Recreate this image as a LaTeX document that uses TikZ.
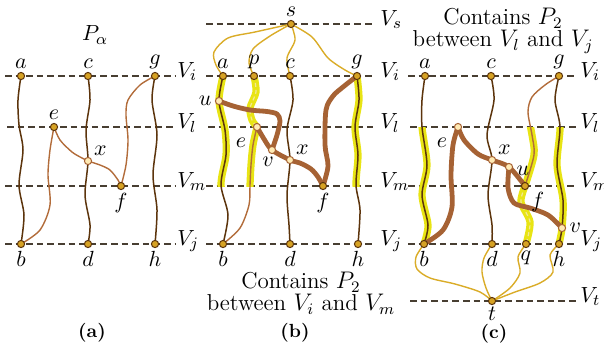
\documentclass[tikz,border=0pt,11pt]{standalone}
\usepackage{amsmath,amssymb}
\usepackage{tikz}
\usepackage{xcolor}
\usetikzlibrary{backgrounds}
\definecolor{dkbrown}{RGB}{92,52,12}
\definecolor{ltbrown}{RGB}{178,108,58}
\definecolor{thbrown}{RGB}{166,98,52}
\definecolor{glowy}{RGB}{232,228,20}
\definecolor{paley}{RGB}{242,232,150}
\definecolor{gold}{RGB}{218,172,40}
\definecolor{nodegold}{RGB}{214,162,36}
\definecolor{nodepale}{RGB}{255,234,180}
\definecolor{guidec}{RGB}{72,62,50}

\begin{document}
\begin{tikzpicture}[x=0.5pt,y=-0.5pt,
  vtx/.style={circle,draw=dkbrown,fill=nodegold,line width=0.5pt,inner sep=0pt,minimum size=3.6pt},
  pvtx/.style={vtx,draw=thbrown,fill=nodepale},
  every label/.style={inner sep=1pt},
  label distance=0.5pt,
  guide/.style={draw=guidec,line width=0.6pt,dash pattern=on 3.3pt off 2pt},
  vlab/.style={anchor=base west,inner sep=0pt},
  wire/.style={draw=dkbrown,line width=0.75pt},
  lwire/.style={draw=ltbrown,line width=0.7pt},
  twire/.style={draw=thbrown,line width=2.4pt,line cap=round,line join=round},
  glow/.style={draw=glowy,line width=3.6pt},
  ghost/.style={draw=paley,line width=0.6pt,dash pattern=on 2pt off 1.5pt},
  sedge/.style={draw=gold,line width=0.7pt},
  capt/.style={anchor=north,align=center,inner sep=0pt,font=\fontsize{11.5}{10.8}\selectfont},
  subcap/.style={font=\fontsize{9.5}{11}\selectfont\bfseries,inner sep=1pt}]
\useasboundingbox (0,0) rectangle (604,344);

\node (Palpha) at (95,35) {$P_\alpha$};
\node[vtx,label=above:$a$] (a1) at (21,76) {};
\node[vtx,label=above:$c$] (c1) at (88,76) {};
\node[vtx,label=above:$g$] (g1) at (155,76) {};
\node[vtx,label=above:$e$] (e1) at (54,127) {};
\node[pvtx,label=above right:$x$] (x1) at (88,161) {};
\node[vtx,label=below:$f$] (f1) at (121,186) {};
\node[vtx,label=below:$b$] (b1) at (21,244) {};
\node[vtx,label=below:$d$] (d1) at (88,244) {};
\node[vtx,label=below:$h$] (h1) at (155,244) {};
\node[vlab] (Vi1) at (177,77.5) {$V_i$};
\node[vlab] (Vl1) at (177,128.5) {$V_l$};
\node[vlab] (Vm1) at (177,187.5) {$V_m$};
\node[vlab] (Vj1) at (177,245.5) {$V_j$};
\node[subcap] (suba) at (92,333) {(a)};

\node[vtx,label=above:$s$] (s2) at (291,24) {};
\node[vtx,label=above:$a$] (a2) at (223,76) {};
\node[vtx,label=above:$p$] (p2) at (254,76) {};
\node[vtx,label=above:$c$] (c2) at (290,76) {};
\node[vtx,label=above:$g$] (g2) at (357,76) {};
\node[pvtx,label=left:$u$] (u2) at (219,101) {};
\node[pvtx,label={[label distance=4pt]225:$e$}] (e2) at (257,127) {};
\node[pvtx,label={[xshift=-2pt]below:$v$}] (v2) at (272,150) {};
\node[pvtx,label=above right:$x$] (x2) at (290,160) {};
\node[vtx,label=below:$f$] (f2) at (323,186) {};
\node[vtx,label=below:$b$] (b2) at (223,244) {};
\node[vtx,label=below:$d$] (d2) at (290,244) {};
\node[vtx,label=below:$h$] (h2) at (358,244) {};
\node[vlab] (Vs2) at (380,25.5) {$V_s$};
\node[vlab] (Vi2) at (380,77.5) {$V_i$};
\node[vlab] (Vl2) at (380,128.5) {$V_l$};
\node[vlab] (Vm2) at (380,187.5) {$V_m$};
\node[vlab] (Vj2) at (380,245.5) {$V_j$};
\node[capt] (capb) at (301,272) {Contains $P_2$\\between $V_i$ and $V_m$};
\node[subcap] (subb) at (295,333) {(b)};

\node[vtx,label=above:$a$] (a3) at (425,76) {};
\node[vtx,label=above:$c$] (c3) at (491,76) {};
\node[vtx,label=above:$g$] (g3) at (559,76) {};
\node[pvtx,label={[label distance=4pt]225:$e$}] (e3) at (458,127) {};
\node[pvtx,label=above right:$x$] (x3) at (492,160) {};
\node[pvtx,label={[yshift=-2pt]right:$u$}] (u3) at (509,167) {};
\node[vtx,label=below right:$f$] (f3) at (525,186) {};
\node[pvtx,label=right:$v$] (v3) at (562,228) {};
\node[vtx,label=below:$b$] (b3) at (424,244) {};
\node[vtx,label=below:$d$] (d3) at (492,244) {};
\node[vtx,label=below:$q$] (q3) at (526,244) {};
\node[vtx,label=below:$h$] (h3) at (559,244) {};
\node[vtx,label={[label distance=0pt]below:$t$}] (t3) at (492,301) {};
\node[vlab] (Vi3) at (580,77.5) {$V_i$};
\node[vlab] (Vl3) at (580,128.5) {$V_l$};
\node[vlab] (Vm3) at (580,187.5) {$V_m$};
\node[vlab] (Vj3) at (580,245.5) {$V_j$};
\node[vlab] (Vt3) at (580,302.5) {$V_t$};
\node[capt] (capc) at (503,8) {Contains $P_2$\\between $V_l$ and $V_j$};
\node[subcap] (subc) at (494,334) {(c)};

\begin{scope}[on background layer]
\draw[guide] (5,76) -- (175,76);
\draw[guide] (7,127) -- (175,127);
\draw[guide] (5,186) -- (175,186);
\draw[guide] (5,244) -- (175,244);
\draw[guide] (206,24) -- (373,24);
\draw[guide] (206,76) -- (373,76);
\draw[guide] (208,127) -- (373,127);
\draw[guide] (206,186) -- (373,186);
\draw[guide] (206,244) -- (373,244);
\draw[guide] (408,76) -- (577,76);
\draw[guide] (410,127) -- (577,127);
\draw[guide] (408,186) -- (577,186);
\draw[guide] (408,244) -- (577,244);
\draw[guide] (410,301) -- (577,301);

\begin{scope}
\clip (200,76) rectangle (400,186);
\draw[glow] plot[smooth] coordinates {(a2) (u2) (225,130) (226,155) (221,185) (228,215) (b2)};
\draw[glow] plot[smooth] coordinates {(e2) (253,145) (251,165) (250,185) (249,205) (240,228) (b2)};
\draw[glow] plot[smooth] coordinates {(g2) (359,100) (355,127) (358,155) (356,185) (360,210) (h2)};
\end{scope}
\draw[glow] plot[smooth] coordinates {(p2) (256,92) (250,108) (252,120) (e2)};
\draw[ghost] plot[smooth] coordinates {(p2) (256,92) (250,108) (252,120) (e2)};
\begin{scope}
\clip (400,127) rectangle (600,244);
\draw[glow] plot[smooth] coordinates {(a3) (422,100) (422,127) (427,165) (422,195) (428,225) (b3)};
\draw[glow] plot[smooth] coordinates {(g3) (555,100) (560,127) (557,165) (563,200) (v3) (h3)};
\draw[glow] plot[smooth] coordinates {(g3) (545,85) (532,97) (528,112) (532,135) (534,155) (f3)};
\end{scope}
\draw[glow] plot[smooth] coordinates {(f3) (521,202) (530,222) (q3)};
\draw[ghost] plot[smooth] coordinates {(f3) (521,202) (530,222) (q3)};

\draw[wire] plot[smooth] coordinates {(a1) (18,100) (19,125) (23,150) (19,185) (24,215) (b1)};
\draw[wire] plot[smooth] coordinates {(c1) (90,100) (86,130) (x1) (85,195) (90,225) (d1)};
\draw[wire] plot[smooth] coordinates {(g1) (152,100) (157,135) (153,175) (157,210) (h1)};
\draw[lwire] plot[smooth] coordinates {(e1) (50,150) (48,175) (50,205) (40,230) (b1)};
\draw[lwire] plot[smooth] coordinates {(e1) (60,140) (72,152) (82,158) (x1) (100,165) (110,170) (118,180) (f1)};
\draw[lwire] plot[smooth] coordinates {(g1) (140,85) (128,100) (126,115) (128,140) (126,165) (f1)};

\draw[sedge] plot[smooth] coordinates {(s2) (255,32) (228,38) (214,52) (216,65) (a2)};
\draw[sedge] plot[smooth] coordinates {(s2) (270,36) (253,49) (249,63) (p2)};
\draw[sedge] plot[smooth] coordinates {(s2) (295,40) (287,58) (c2)};
\draw[sedge] plot[smooth] coordinates {(s2) (312,37) (328,58) (345,70) (g2)};
\draw[wire] plot[smooth] coordinates {(a2) (u2) (225,130) (226,155) (221,185) (228,215) (b2)};
\draw[wire] plot[smooth] coordinates {(c2) (293,100) (287,130) (x2) (287,195) (289,225) (d2)};
\draw[wire] plot[smooth] coordinates {(g2) (359,100) (355,127) (358,155) (356,185) (360,210) (h2)};
\draw[lwire] plot[smooth] coordinates {(e2) (253,145) (251,165) (250,185) (249,205) (240,228) (b2)};
\draw[twire] plot[smooth] coordinates {(u2) (233,106) (250,110) (267,111.5) (277,114) (280,121) (277,135) (v2)};
\draw[twire] plot[smooth] coordinates {(e2) (264,139) (v2) (x2) (300,163) (311,169) (318,177) (f2)};
\draw[twire] plot[smooth] coordinates {(f2) (328,166) (325,145) (326,110) (333,96) (343,87) (g2)};

\draw[wire] plot[smooth] coordinates {(a3) (422,100) (422,127) (427,165) (422,195) (428,225) (b3)};
\draw[wire] plot[smooth] coordinates {(c3) (494,100) (487,135) (x3) (488,195) (492,225) (d3)};
\draw[wire] plot[smooth] coordinates {(g3) (555,100) (560,127) (557,165) (563,200) (v3) (h3)};
\draw[lwire] plot[smooth] coordinates {(g3) (545,85) (532,97) (528,112) (532,135) (534,155) (f3)};
\draw[twire] plot[smooth] coordinates {(b3) (443,230) (452,207) (451,175) (453,145) (e3)};
\draw[twire] plot[smooth] coordinates {(e3) (464,140) (478,154) (x3) (u3) (f3)};
\draw[twire] plot[smooth] coordinates {(u3) (508,188) (514,203) (530,208) (548,215) (v3)};
\draw[sedge] plot[smooth] coordinates {(b3) (416,257) (417,269) (430,278) (455,284) (480,292) (t3)};
\draw[sedge] plot[smooth] coordinates {(d3) (484,258) (482,272) (486,288) (t3)};
\draw[sedge] plot[smooth] coordinates {(q3) (518,257) (520,273) (510,288) (t3)};
\draw[sedge] plot[smooth] coordinates {(h3) (550,255) (553,272) (540,283) (515,292) (t3)};
\end{scope}
\end{tikzpicture}
\end{document}
